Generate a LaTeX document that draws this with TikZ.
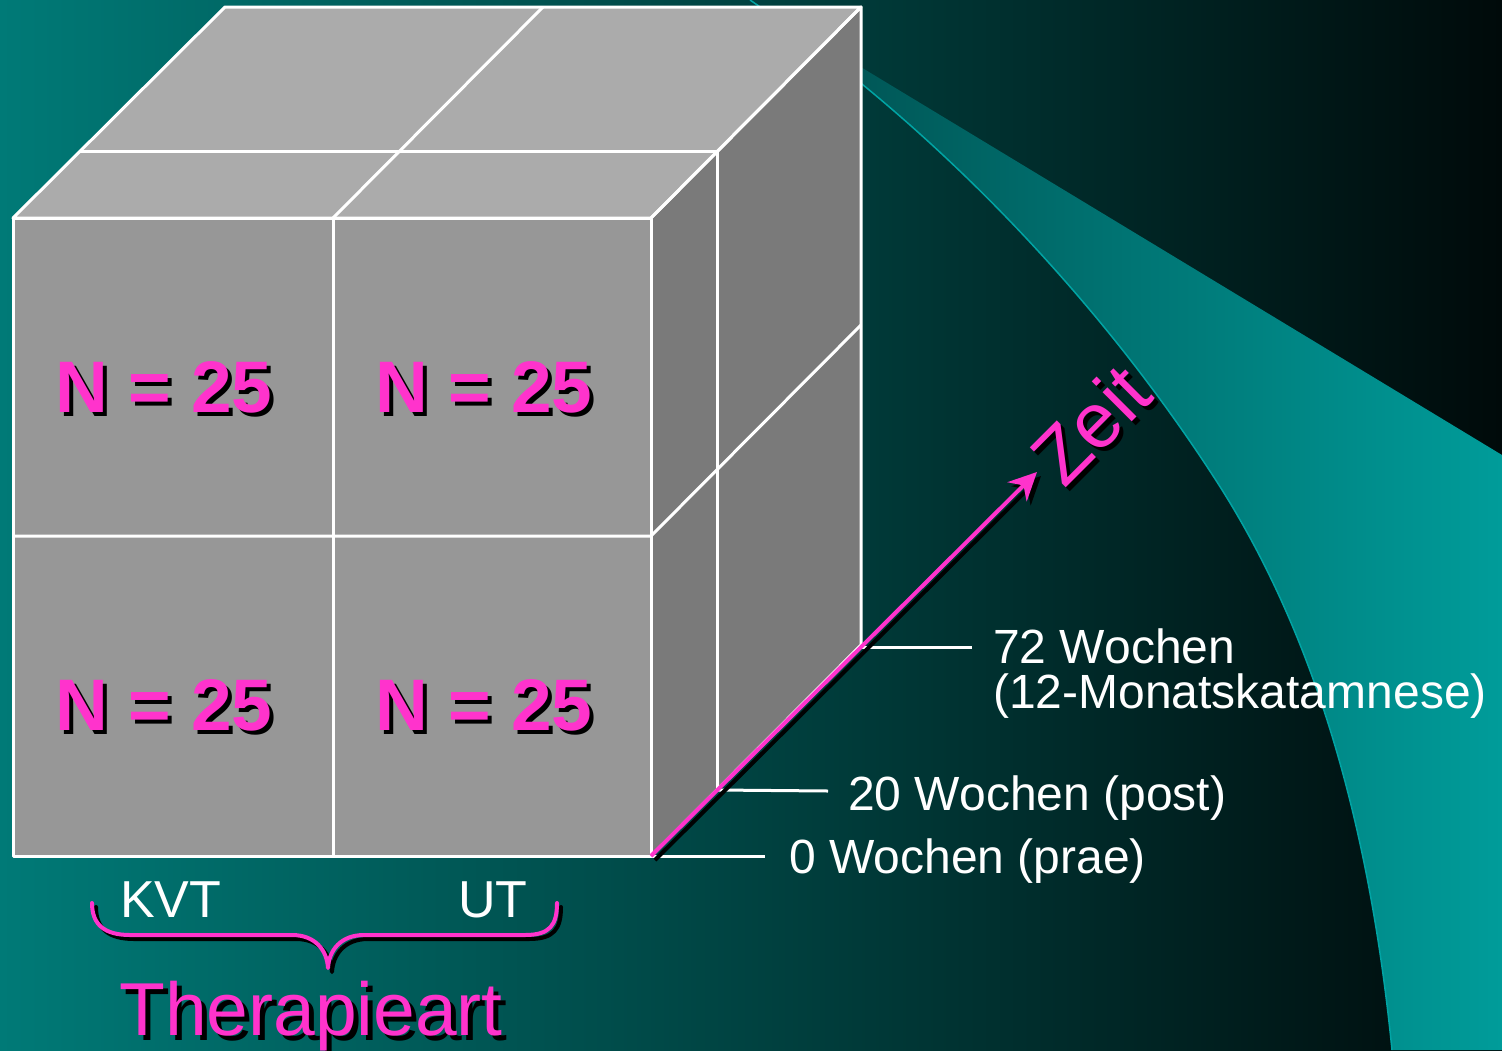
\documentclass[tikz,border=0pt]{standalone}
\usepackage{fontspec}
\setmainfont{Liberation Sans}
\usetikzlibrary{arrows.meta}
\definecolor{bgL}{HTML}{007A77}
\definecolor{bgR}{HTML}{000A0A}
\definecolor{bandL}{HTML}{004C4C}
\definecolor{bandM}{HTML}{008A88}
\definecolor{bandR}{HTML}{009C9A}
\definecolor{bandEdge}{HTML}{00A4A4}
\definecolor{magc}{HTML}{FF33CC}
\definecolor{topc}{HTML}{ABABAB}
\definecolor{frontc}{HTML}{979797}
\definecolor{sidec}{HTML}{7A7A7A}
\newcommand\fsz[1]{\fontsize{#1}{#1}\selectfont}
\tikzset{
  edge/.style={white, line width=3pt, line join=round},
  tick/.style={white, line width=3pt},
  lbl/.style={text=white, anchor=base west, inner sep=0pt, font=\fsz{48}},
  cell/.style={anchor=base west, inner sep=0pt, font=\fsz{73}\bfseries},
  magtxt/.style={text=magc},
  shdtxt/.style={text=black},
  marrow/.style={line width=4pt, -{Stealth[length=28pt,width=27pt,inset=9pt]}},
  bracepath/.style={line width=4pt, line cap=round, line join=round},
}
\begin{document}
\begin{tikzpicture}[x=1pt,y=-1pt]
\useasboundingbox (0,0) rectangle (1502,1050);
% background
\shade[left color=bgL, right color=bgR] (0,0) rectangle (1502,1050);
% swoosh band
\shade[left color=bandL, middle color=bandM, right color=bandR]
  (750,0) -- (1502,455) -- (1502,1050) -- (1392,1050)
  .. controls (1372,851) and (1325,650) .. (1217,482)
  .. controls (1098,297) and (932,124) .. (750,0) -- cycle;
\draw[bandEdge, line width=1.5pt] (1392,1050)
  .. controls (1372,851) and (1325,650) .. (1217,482)
  .. controls (1098,297) and (932,124) .. (750,0);
% cube corners
\coordinate (A) at (13,218);
\coordinate (B) at (651,218);
\coordinate (C) at (651,856);
\coordinate (D) at (13,856);
\coordinate (E) at (225,7);
\coordinate (F) at (861,7);
\coordinate (G) at (861,645);
\coordinate (t1) at (717,790);
\coordinate (tip) at (1037,472);
% faces
\fill[topc] (A) -- (E) -- (F) -- (B) -- cycle;
\fill[frontc] (A) rectangle (C);
\fill[sidec] (B) -- (F) -- (G) -- (C) -- cycle;
% grid lines
\draw[edge] (A) -- (E) -- (F) -- (B) -- cycle;
\draw[edge] (A) rectangle (C);
\draw[edge] (B) -- (F) -- (G) -- (C);
\draw[edge] (333,218) -- (333,856);
\draw[edge] (13,536) -- (651,536) -- (861,325);
\draw[edge] (333,218) -- (543,7);
\draw[edge] (80,151) -- (717,151) -- (t1);
% ticks
\coordinate (k72) at (972,647);
\coordinate (k20) at (828,791);
\coordinate (k0) at (765,856);
\draw[tick] (861,647) -- (k72);
\draw[tick] (t1) -- (k20);
\draw[tick] (C) -- (k0);
% arrow
\draw[marrow, black!80!bgR] ([xshift=4pt,yshift=-4pt]C) -- ([xshift=4pt,yshift=-4pt]tip);
\draw[marrow, magc] (C) -- (tip);
% Zeit
\node[rotate=45, anchor=base west, inner sep=0pt, font=\fsz{78}, shdtxt] (zeits) at (1068,494) {Zeit};
\node[rotate=45, anchor=base west, inner sep=0pt, font=\fsz{78}, magtxt] (zeit) at (1064,490) {Zeit};
% time labels
\node[lbl] (w72) at (993,663) {72 Wochen};
\node[lbl] (w72b) at (993,708) {(12-Monatskatamnese)};
\node[lbl] (w20) at (848,810) {20 Wochen (post)};
\node[lbl] (w0) at (789,873) {0 Wochen (prae)};
% cells
\node[cell, shdtxt] (c1s) at (59,416) {N = 25};
\node[cell, magtxt] (c1) at (55,412) {N = 25};
\node[cell, shdtxt] (c2s) at (379,416) {N = 25};
\node[cell, magtxt] (c2) at (375,412) {N = 25};
\node[cell, shdtxt] (c3s) at (59,734) {N = 25};
\node[cell, magtxt] (c3) at (55,730) {N = 25};
\node[cell, shdtxt] (c4s) at (379,734) {N = 25};
\node[cell, magtxt] (c4) at (375,730) {N = 25};
% KVT / UT
\node[lbl, font=\fsz{52}] (kvt) at (120,917) {KVT};
\node[lbl, font=\fsz{52}] (ut) at (458,917) {UT};
% brace
\begin{scope}[shift={(4,4)}]
\draw[bracepath, black] (92,903) .. controls (92,925) and (105,935) .. (130,935) -- (292,935) .. controls (315,935) and (327,950) .. (328,968) .. controls (329,950) and (341,935) .. (364,935) -- (525,935) .. controls (550,935) and (557,925) .. (557,903);
\end{scope}
\draw[bracepath, magc] (92,903) .. controls (92,925) and (105,935) .. (130,935) -- (292,935) .. controls (315,935) and (327,950) .. (328,968) .. controls (329,950) and (341,935) .. (364,935) -- (525,935) .. controls (550,935) and (557,925) .. (557,903);
% Therapieart
\node[anchor=base west, inner sep=0pt, font=\fsz{75}, shdtxt] (ths) at (124,1040) {Therapieart};
\node[anchor=base west, inner sep=0pt, font=\fsz{75}, magtxt] (th) at (119,1035) {Therapieart};
\end{tikzpicture}
\end{document}
